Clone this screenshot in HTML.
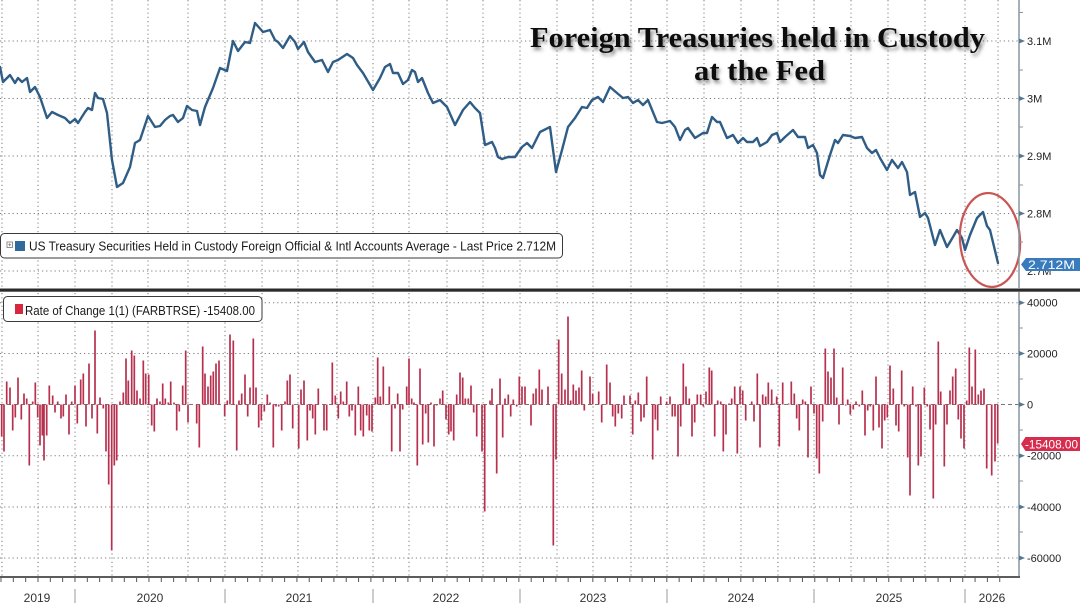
<!DOCTYPE html>
<html>
<head>
<meta charset="utf-8">
<style>
html,body{margin:0;padding:0;background:#fff;}
svg{display:block;}
text{font-family:"Liberation Sans",Arial,sans-serif;}
</style>
</head>
<body>
<svg width="1080" height="603" viewBox="0 0 1080 603" xmlns="http://www.w3.org/2000/svg">
<defs>
<filter id="sh" x="-5%" y="-30%" width="110%" height="170%">
<feDropShadow dx="2" dy="3" stdDeviation="1.8" flood-color="#555" flood-opacity="0.7"/>
</filter>
</defs>
<rect width="1080" height="603" fill="#fff"/>

<!-- vertical grid -->
<g stroke="#7c7c7c" stroke-width="1" stroke-dasharray="1.2 3" fill="none">
<path d="M2 0V288M38 0V288M75 0V288M112 0V288M148 0V288M188 0V288M225 0V288M262 0V288M298 0V288M337 0V288M373 0V288M409 0V288M447 0V288M483 0V288M520 0V288M557 0V288M593 0V288M631 0V288M667 0V288M704 0V288M741 0V288M778 0V288M814 0V288M851 0V288M888 0V288M925 0V288M965 0V288M998 0V288"/>
<path d="M2 293V576M38 293V576M75 293V576M112 293V576M148 293V576M188 293V576M225 293V576M262 293V576M298 293V576M337 293V576M373 293V576M409 293V576M447 293V576M483 293V576M520 293V576M557 293V576M593 293V576M631 293V576M667 293V576M704 293V576M741 293V576M778 293V576M814 293V576M851 293V576M888 293V576M925 293V576M965 293V576M998 293V576"/>
<path d="M0 41H1019M0 98.5H1019M0 156H1019M0 213.5H1019M0 271H1019"/>
<path d="M0 302.7H1019M0 353.5H1019M0 455.7H1019M0 507H1019M0 558H1019"/>
</g>
<path d="M0 404.5H1019" stroke="#777" stroke-width="1" stroke-dasharray="4 3"/>

<!-- title -->
<g filter="url(#sh)" fill="#111" style="font-family:'Liberation Serif','Times New Roman',serif;font-weight:bold;font-size:28px;">
<text x="530" y="47" textLength="455" lengthAdjust="spacingAndGlyphs" style="font-family:'Liberation Serif',serif">Foreign Treasuries held in Custody</text>
<text x="694" y="80" textLength="131" lengthAdjust="spacingAndGlyphs" style="font-family:'Liberation Serif',serif">at the Fed</text>
</g>

<!-- main line -->
<path fill="none" stroke="#2f5d85" stroke-width="2.4" stroke-linejoin="round" stroke-linecap="round" d="M0 67L3 82L10 75L15 83L18 78L22 82L27 78L30 92L35 87L40 97L47 118L52 112L58 115L65 118L70 123L75 119L78 123L85 112L88 108L92 110L95 93L98 98L103 99L107 113L112 160L117 187L123 183L130 167L135 143L140 140L148 116L155 127L160 126L165 120L170 116L173 115L178 122L183 118L187 106L192 110L197 111L200 125L205 107L213 88L220 68L227 71L233 41L238 51L245 42L250 43L255 23L263 32L270 30L275 40L278 42L283 48L290 36L295 42L298 49L304 42L308 52L315 62L322 60L328 72L333 62L338 60L347 54L353 58L357 65L363 73L373 90L380 78L385 67L390 64L393 73L398 73L403 84L408 80L412 70L415 72L418 82L422 78L428 93L433 103L440 100L447 107L455 125L463 110L470 102L475 108L480 113L485 145L492 142L495 148L498 157L502 159L508 157L515 157L522 147L527 143L532 148L540 132L550 127L556 172L562 150L568 127L575 118L582 107L587 108L592 100L598 97L603 102L610 87L617 93L623 98L628 97L633 103L638 100L643 105L648 100L657 122L662 123L670 121L675 127L680 140L685 130L688 128L695 138L703 133L707 133L712 117L717 122L720 122L727 138L733 135L738 143L743 138L747 142L753 142L757 138L760 146L767 142L772 135L777 133L780 142L785 137L793 130L798 137L805 137L808 148L813 145L817 153L820 175L823 178L830 155L835 140L838 143L843 135L850 136L855 138L862 137L867 148L872 153L876 150L880 158L887 170L892 160L898 168L902 162L907 172L910 195L915 192L920 217L925 213L928 218L935 245L940 230L947 247L953 237L957 230L962 238L965 250L970 235L977 218L983 212L987 226L990 230L998 263"/>

<!-- red ellipse -->
<ellipse cx="990" cy="240" rx="30" ry="47" fill="none" stroke="#c95654" stroke-width="2.2" transform="rotate(-4 990 240)"/>

<!-- top legend -->
<rect x="0.5" y="233.5" width="562" height="24.5" rx="4" fill="#fff" stroke="#3a3a3a" stroke-width="1"/>
<rect x="7" y="242" width="5.5" height="5.5" fill="#fff" stroke="#777" stroke-width="0.8"/>
<path d="M8.3 244.75H11.2M9.75 243.3V246.2" stroke="#777" stroke-width="0.8"/>
<rect x="15" y="241" width="10" height="10" fill="#2e6a9e"/>
<text x="29" y="250.7" font-size="13" fill="#1a1a1a" textLength="527" lengthAdjust="spacingAndGlyphs">US Treasury Securities Held in Custody Foreign Official &amp; Intl Accounts Average - Last Price 2.712M</text>

<!-- separator -->
<rect x="0" y="288.5" width="1080" height="3.2" fill="#2b2b2b"/>

<!-- bars -->
<path fill="none" stroke="#b7314f" stroke-width="1.7" d="M1.7 404.5v32M4 404.5v47M6.7 404.5v-23M10 404.5v-17M12.7 404.5v26M15.3 404.5v13M18 404.5v-27M21.3 404.5v15M24 404.5v-11M26.7 404.5v-6M29.3 404.5v61M32.7 404.5v-3M35.3 404.5v-22M37.7 404.5v13M40 404.5v41M42.3 404.5v31M44 404.5v56M46.7 404.5v31M49.3 404.5v-19M52.7 404.5v-9M55 404.5v8M57.7 404.5v-3M61 404.5v14M63.3 404.5v12M66 404.5v-10M69 404.5v30M71.7 404.5v-3M75 404.5v-19M77.3 404.5v19M80.7 404.5v-25M83.3 404.5v-31M86 404.5v22M89 404.5v-41M92 404.5v14M95 404.5v-74M97.3 404.5v29M100 404.5v-7M103.3 404.5v4M106 404.5v47M108.7 404.5v80M111.7 404.5v146M114.3 404.5v61M116.7 404.5v56M120 404.5v-3M123.3 404.5v-12M126 404.5v-46M128.3 404.5v-24M131.7 404.5v-54M134.3 404.5v-49M137 404.5v-14M140 404.5v-6M143.3 404.5v-44M145.7 404.5v-31M148.7 404.5v-30M151.7 404.5v21M154.3 404.5v27M157 404.5v-6M160 404.5v-3M162.7 404.5v-21M165.3 404.5v-6M168.3 404.5v-2M170.7 404.5v-23M174 404.5v-2M176.7 404.5v26M179.3 404.5v7M182.7 404.5v-19M185.7 404.5v-54M188 404.5v18M196.7 404.5v19M199.3 404.5v43M202.7 404.5v-58M205 404.5v-31M208 404.5v-18M210.7 404.5v-29M213.3 404.5v-33M216 404.5v-41M219 404.5v-44M224.7 404.5v12M227.3 404.5v-4M230 404.5v-70M233.3 404.5v-64M236.7 404.5v46M239 404.5v-4M241.7 404.5v-11M245 404.5v-30M247.7 404.5v12M250 404.5v-17M253.3 404.5v-66M256 404.5v-17M258.7 404.5v23M261.3 404.5v16M264.3 404.5v7M267.3 404.5v-10M270 404.5v-2M273.3 404.5v43M276 404.5v2M278.7 404.5v2M281.7 404.5v26M285 404.5v-3M287.3 404.5v-24M290 404.5v-30M292.7 404.5v24M298.7 404.5v44M301 404.5v-15M304 404.5v-24M307.3 404.5v36M310 404.5v6M312.7 404.5v14M315.3 404.5v30M318.3 404.5v-16M324 404.5v26M326.7 404.5v26M332.3 404.5v-42M335.3 404.5v-9M338.3 404.5v14M340.7 404.5v-13M343.3 404.5v-3M346.7 404.5v-23M349.3 404.5v12M352 404.5v6M355.3 404.5v31M358.3 404.5v-18M360.7 404.5v26M363.3 404.5v32M366.7 404.5v11M369.3 404.5v26M372 404.5v27M375.3 404.5v-7M377.7 404.5v-47M380.3 404.5v-8M383.3 404.5v-38M389.3 404.5v-18M391.7 404.5v47M395 404.5v4M397.7 404.5v-11M400 404.5v47M402.7 404.5v5M406.7 404.5v-18M409 404.5v-46M411.7 404.5v-6M414 404.5v-2M417.3 404.5v61M420 404.5v-36M422.7 404.5v40M425.7 404.5v9M428.3 404.5v38M431 404.5v-2M434 404.5v42M436.7 404.5v1M440 404.5v-6M442.7 404.5v-14M446 404.5v15M448.7 404.5v30M451 404.5v27M453.7 404.5v36M456.7 404.5v-10M460 404.5v-32M462.7 404.5v-27M465.3 404.5v-6M468.3 404.5v-6M471 404.5v-19M473.7 404.5v8M476.7 404.5v32M482 404.5v47M484.7 404.5v107M490 404.5v-4M492 404.5v-16M496.7 404.5v69M500 404.5v-26M502.7 404.5v33M505 404.5v-6M508.3 404.5v-10M510.7 404.5v12M513.3 404.5v-5M516.7 404.5v2M519.3 404.5v-28M522 404.5v-18M525 404.5v-18M531 404.5v21M533.3 404.5v-11M536 404.5v-16M539.3 404.5v-35M542 404.5v-15M548 404.5v-18M553.3 404.5v141M556 404.5v55M558.7 404.5v-65M561.7 404.5v-31M565 404.5v-15M568 404.5v-88M570.7 404.5v-4M573.3 404.5v-20M576 404.5v-14M579 404.5v-17M581.7 404.5v-34M584.3 404.5v6M590 404.5v-28M592.7 404.5v-11M598.7 404.5v-13M601.7 404.5v18M606.7 404.5v-40M610 404.5v-22M612.7 404.5v12M615.3 404.5v22M618.3 404.5v9M621.7 404.5v14M624 404.5v-9M630 404.5v-9M632.7 404.5v30M635.3 404.5v-4M638.3 404.5v-12M641 404.5v17M644 404.5v13M646.7 404.5v-28M652.7 404.5v55M655.3 404.5v15M657.7 404.5v26M660.7 404.5v-8M666.7 404.5v-3M670 404.5v-8M672.3 404.5v12M675 404.5v12M678 404.5v52M680.7 404.5v22M683.3 404.5v-41M686 404.5v-18M689.3 404.5v-6M692 404.5v32M694.7 404.5v18M697.3 404.5v-10M700.7 404.5v-10M703.3 404.5v2M706 404.5v-13M709.3 404.5v-37M711.7 404.5v-34M714.7 404.5v32M717.7 404.5v-4M720.7 404.5v-3M723.3 404.5v47M726 404.5v30M729 404.5v-1M731.7 404.5v-6M734.7 404.5v-18M737.3 404.5v49M740 404.5v-18M742.7 404.5v-14M745.7 404.5v16M751.7 404.5v-3M754 404.5v17M757.3 404.5v-31M760 404.5v43M762.7 404.5v-10M765.7 404.5v-8M768.3 404.5v-22M771.7 404.5v-15M774.3 404.5v-1M776.7 404.5v-8M779.3 404.5v42M782.7 404.5v-22M788.7 404.5v-1M791.3 404.5v-23M794.3 404.5v-11M796.7 404.5v14M799.3 404.5v26M802.7 404.5v-5M805.3 404.5v-3M808 404.5v53M811 404.5v-18M814 404.5v9M816.7 404.5v54M819.3 404.5v69M822.7 404.5v17M825.3 404.5v-56M828 404.5v-33M831 404.5v-27M834 404.5v-56M836.7 404.5v-7M839 404.5v20M842.7 404.5v-37M845.7 404.5v1M847.7 404.5v-5M850.3 404.5v10M853.3 404.5v5M856 404.5v-3M859.3 404.5v2M862.3 404.5v-14M865 404.5v31M867.7 404.5v6M870.3 404.5v2M873.3 404.5v26M876 404.5v-28M879 404.5v23M882 404.5v44M884.7 404.5v16M887.3 404.5v13M890 404.5v-39M893.3 404.5v-16M896 404.5v21M898.7 404.5v27M901.7 404.5v-34M904.3 404.5v2M907.7 404.5v53M910 404.5v91M912.7 404.5v-18M916 404.5v2M918.3 404.5v61M921 404.5v52M924.3 404.5v-17M927.3 404.5v2M930 404.5v25M933.3 404.5v94M935.7 404.5v20M938.3 404.5v-63M940.7 404.5v-13M944.3 404.5v62M947 404.5v20M950 404.5v-14M952.7 404.5v-28M955.7 404.5v-36M958.3 404.5v15M961 404.5v34M964 404.5v44M966.7 404.5v-4M969.3 404.5v-57M972 404.5v-18M975.3 404.5v-55M978.3 404.5v-10M981 404.5v-14M984 404.5v-16M986.7 404.5v64M991.7 404.5v71M995 404.5v57M997.7 404.5v39"/>

<!-- bottom legend -->
<rect x="3.5" y="296.5" width="258.5" height="25" rx="4" fill="#fff" stroke="#3a3a3a" stroke-width="1"/>
<rect x="15" y="304" width="8" height="10" fill="#d8283f"/>
<text x="25" y="315" font-size="13" fill="#1a1a1a" textLength="230" lengthAdjust="spacingAndGlyphs">Rate of Change 1(1) (FARBTRSE) -15408.00</text>

<!-- right axis -->
<path d="M1019 0V288M1019 292V577" stroke="#8796a2" stroke-width="1.5"/>
<g fill="#55788f">
<path d="M1019 38.5L1025 41L1019 43.5Z"/>
<path d="M1019 96L1025 98.5L1019 101Z"/>
<path d="M1019 153.5L1025 156L1019 158.5Z"/>
<path d="M1019 211L1025 213.5L1019 216Z"/>
<path d="M1019 300.2L1025 302.7L1019 305.2Z"/>
<path d="M1019 351L1025 353.5L1019 356Z"/>
<path d="M1019 402L1025 404.5L1019 407Z"/>
<path d="M1019 453.2L1025 455.7L1019 458.2Z"/>
<path d="M1019 504.5L1025 507L1019 509.5Z"/>
<path d="M1019 555.5L1025 558L1019 560.5Z"/>
</g>
<path d="M1019 12.5h4M1019 70h4M1019 127h4M1019 185h4M1019 242h4M1019 328h4M1019 379h4M1019 430h4M1019 481h4M1019 532h4" stroke="#8796a2" stroke-width="1"/>
<g font-size="11" fill="#222">
<text x="1027" y="45">3.1M</text>
<text x="1027" y="102.5">3M</text>
<text x="1027" y="160">2.9M</text>
<text x="1027" y="217.5">2.8M</text>
<text x="1027" y="275">2.7M</text>
<text x="1027" y="306.7">40000</text>
<text x="1027" y="357.5">20000</text>
<text x="1027" y="408.5">0</text>
<text x="1027" y="459.7">-20000</text>
<text x="1027" y="511">-40000</text>
<text x="1027" y="562">-60000</text>
</g>

<!-- value labels -->
<path d="M1021 264.5L1026 258H1080V271H1026Z" fill="#3a7bbd"/>
<text x="1028" y="269" font-size="12" fill="#fff" textLength="47" lengthAdjust="spacingAndGlyphs">2.712M</text>
<path d="M1021 444L1025.5 437H1080V451H1025.5Z" fill="#d62d4e"/>
<text x="1025" y="448.5" font-size="12" fill="#fff" textLength="53" lengthAdjust="spacingAndGlyphs">-15408.00</text>

<!-- bottom x axis -->
<path d="M0 577H1020" stroke="#5c5c5c" stroke-width="2"/>
<path d="M1 578v4m12.33-4v4m12.33-4v4m12.33-4v4m12.33-4v4m12.33-4v4m12.33-4v4m12.33-4v4m12.33-4v4m12.33-4v4m12.33-4v4m12.33-4v4m12.33-4v4m12.33-4v4m12.33-4v4m12.33-4v4m12.33-4v4m12.33-4v4m12.33-4v4m12.33-4v4m12.33-4v4m12.33-4v4m12.33-4v4m12.33-4v4m12.33-4v4m12.33-4v4m12.33-4v4m12.33-4v4m12.33-4v4m12.33-4v4m12.33-4v4m12.33-4v4m12.33-4v4m12.33-4v4m12.33-4v4m12.33-4v4m12.33-4v4m12.33-4v4m12.33-4v4m12.33-4v4m12.33-4v4m12.33-4v4m12.33-4v4m12.33-4v4m12.33-4v4m12.33-4v4m12.33-4v4m12.33-4v4m12.33-4v4m12.33-4v4m12.33-4v4m12.33-4v4m12.33-4v4m12.33-4v4m12.33-4v4m12.33-4v4m12.33-4v4m12.33-4v4m12.33-4v4m12.33-4v4m12.33-4v4m12.33-4v4m12.33-4v4m12.33-4v4m12.33-4v4m12.33-4v4m12.33-4v4m12.33-4v4m12.33-4v4m12.33-4v4m12.33-4v4m12.33-4v4m12.33-4v4m12.33-4v4m12.33-4v4m12.33-4v4m12.33-4v4m12.33-4v4m12.33-4v4m12.33-4v4m12.33-4v4m12.33-4v4" stroke="#555" stroke-width="1"/>
<path d="M75 589V603M225 589V603M373 589V603M520 589V603M667 589V603M814 589V603M965 589V603" stroke="#9a9a9a" stroke-width="1"/>
<g font-size="12" fill="#333" text-anchor="middle">
<text x="37" y="602">2019</text>
<text x="150" y="602">2020</text>
<text x="299" y="602">2021</text>
<text x="446" y="602">2022</text>
<text x="593" y="602">2023</text>
<text x="741" y="602">2024</text>
<text x="889" y="602">2025</text>
<text x="992" y="602">2026</text>
</g>
</svg>
</body>
</html>
